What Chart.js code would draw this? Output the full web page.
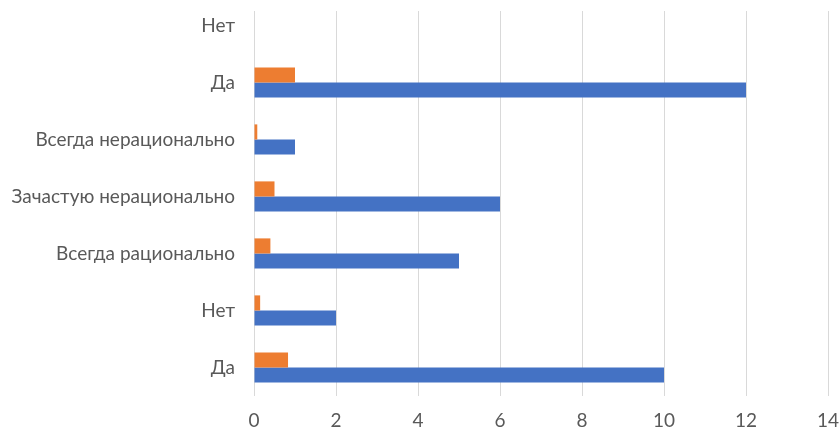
<!DOCTYPE html>
<html>
<head>
<meta charset="utf-8">
<script src="https://cdn.jsdelivr.net/npm/chart.js@4/dist/chart.umd.min.js"></script>
<style>
  html, body { margin: 0; padding: 0; background: #fff; overflow: hidden; }
  #wrap { position: relative; width: 840px; height: 429px; overflow: hidden; }
  #chart { position: absolute; left: 0; top: -14px; }
</style>
</head>
<body>
<div id="wrap"><canvas id="chart" width="840" height="443"></canvas></div>
<script>
// categories, top to bottom
const categories = ['Нет', 'Да', 'Всегда нерационально', 'Зачастую нерационально', 'Всегда рационально', 'Нет', 'Да'];
const seriesBlue = [0, 12, 1, 6, 5, 2, 10];
const seriesOrange = [0, 1, 0.08, 0.5, 0.4, 0.15, 0.83];
const xTicks = [0, 2, 4, 6, 8, 10, 12, 14];

const textColor = '#595959';
const fontFamily = 'Lato, "Open Sans", sans-serif';
const shiftY = 14; // canvas is moved up by this much

// hide gridlines above the visible plot top (reference plot is cropped)
const topMask = {
  id: 'topMask',
  beforeDatasetsDraw(chart) {
    const { ctx, chartArea } = chart;
    ctx.save();
    ctx.fillStyle = '#fff';
    ctx.fillRect(chartArea.left - 2, 0, chartArea.right - chartArea.left + 4, shiftY + 11);
    ctx.restore();
  }
};

new Chart(document.getElementById('chart').getContext('2d'), {
  type: 'bar',
  data: {
    labels: categories,
    datasets: [
      { label: 'Ряд2', data: seriesOrange, backgroundColor: '#ED7D31', borderWidth: 0 },
      { label: 'Ряд1', data: seriesBlue, backgroundColor: '#4472C4', borderWidth: 0 }
    ]
  },
  options: {
    indexAxis: 'y',
    responsive: false,
    animation: false,
    categoryPercentage: 0.53,
    barPercentage: 1,
    layout: { padding: { top: 11, right: 12, left: 0, bottom: 0 } },
    plugins: {
      legend: { display: false },
      tooltip: { enabled: false }
    },
    scales: {
      x: {
        min: 0,
        max: 14,
        afterBuildTicks(scale) {
          scale.ticks = xTicks.map(v => ({ value: v }));
        },
        afterFit(scale) {
          scale.height = 33;
          scale.paddingLeft = 0;
          scale.paddingRight = 0;
        },
        grid: { color: '#D9D9D9', lineWidth: 1, drawTicks: false },
        border: { display: false },
        ticks: { color: textColor, padding: 13, font: { family: fontFamily, size: 19 } }
      },
      y: {
        afterFit(scale) {
          scale.width = 254;
          scale.paddingTop = 0;
          scale.paddingBottom = 0;
        },
        grid: { display: false, drawTicks: false },
        border: { display: false },
        ticks: { color: textColor, padding: 19, font: { family: fontFamily, size: 19 } }
      }
    }
  },
  plugins: [topMask]
});
</script>
</body>
</html>
